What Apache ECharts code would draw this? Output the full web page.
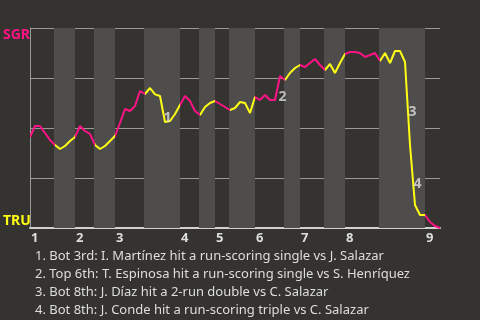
<!DOCTYPE html>
<html>
<head>
<meta charset="utf-8">
<script src="https://cdn.jsdelivr.net/npm/echarts@6/dist/echarts.min.js"></script>
<style>
html,body{margin:0;padding:0;background:#353330;}
#c{width:480px;height:320px;}
</style>
</head>
<body>
<div id="c"></div>
<script>
// SGR win probability (%) after each plate appearance (index 0 = start of game)
const winProb = [
  45.5, 51, 51, 47.5, 44, 41.5, 39.5, 41, 43.5, 45.5,
  51, 48.5, 47, 41.5, 39.5, 41, 43.5, 46, 52.5, 59.5,
  58.5, 61, 68.5, 67, 70, 66.8, 66, 53, 53.5, 57,
  61.5, 66, 63.5, 58.5, 56.5, 60.5, 62.5, 63.5, 62, 60.5,
  59, 60, 63, 62.5, 57.5, 65.5, 64, 66.5, 64, 64,
  76, 74, 77.5, 80, 81.5, 80.5, 82.5, 84.5, 81.5, 79,
  82, 77.5, 82.5, 87, 88, 88, 87.5, 85.5, 86.5, 87.5,
  83.5, 87.5, 82.5, 88.5, 88.5, 83, 41.5, 11.5, 6.5, 6.5,
  3, 1, 0
];
// plate-appearance index where each half inning starts (last = end of game)
const halfInningStarts = [0, 5, 9, 13, 17, 23, 30, 34, 37, 40, 45, 51, 54, 59, 63, 70, 79, 82];
const inningLabels = ['1','2','3','4','5','6','7','8','9'];
// key plays: plate-appearance index of the play
const keyPlayIdx = [27, 50, 76, 77];
const keyPlayLabels = ['1','2','3','4'];
const keyPlayTexts = [
  '1. Bot 3rd: I. Martínez hit a run-scoring single vs J. Salazar',
  '2. Top 6th: T. Espinosa hit a run-scoring single vs S. Henríquez',
  '3. Bot 8th: J. Díaz hit a 2-run double vs C. Salazar',
  '4. Bot 8th: J. Conde hit a run-scoring triple vs C. Salazar'
];
const teamTop = 'SGR';
const teamBottom = 'TRU';

const PINK = '#ff1286';
const YELLOW = '#ffff14';
const BAND = '#4e4d4b';
const TXT = '#dedede';

const inningStarts = halfInningStarts.filter((v, i) => i % 2 === 0 && i < halfInningStarts.length - 1);
const lastIdx = halfInningStarts[halfInningStarts.length - 1];

const lineData = winProb.map((v, i) => [i, v]);

const bands = [];
const pieces = [];
for (let i = 0; i < halfInningStarts.length - 1; i++) {
  const a = halfInningStarts[i], b = halfInningStarts[i + 1];
  pieces.push({ gte: a, lt: (i === halfInningStarts.length - 2) ? b + 1 : b, color: i % 2 === 0 ? PINK : YELLOW });
  if (i % 2 === 1) bands.push([{ xAxis: a - 0.2 }, { xAxis: b }]);
}

const keyPts = keyPlayIdx.map((idx, k) => ({
  value: [idx - 0.5, (winProb[idx - 1] + winProb[idx]) / 2],
  label: { formatter: keyPlayLabels[k] }
}));

const chart = echarts.init(document.getElementById('c'), null, { renderer: 'canvas' });
chart.setOption({
  backgroundColor: '#353330',
  animation: false,
  title: {
    text: keyPlayTexts.join('\n'),
    left: 30, top: 242,
    textStyle: { color: TXT, fontSize: 13, fontWeight: 'normal', lineHeight: 18, fontFamily: 'Noto Sans' }
  },
  grid: { left: 30, right: 40, top: 28, bottom: 92 },
  xAxis: {
    type: 'value', min: 0, max: lastIdx,
    axisLine: { show: true, lineStyle: { color: '#d0d0d0', width: 2 } },
    axisTick: { show: false },
    splitLine: { show: false },
    axisLabel: {
      customValues: inningStarts,
      formatter: v => inningLabels[inningStarts.indexOf(v)],
      color: TXT, fontWeight: 'bold', fontSize: 13, fontFamily: 'Noto Sans',
      align: 'left', margin: 4, padding: [0, 0, 0, 1]
    }
  },
  yAxis: {
    type: 'value', min: 0, max: 100, interval: 25,
    axisLine: { show: true, onZero: false, lineStyle: { color: '#9a9a9a', width: 1 } },
    axisTick: { show: false },
    axisLabel: { show: false },
    splitLine: { show: true, lineStyle: { color: '#999', width: 1 } }
  },
  visualMap: {
    show: false, type: 'piecewise', dimension: 0, seriesIndex: 0, pieces: pieces
  },
  series: [
    {
      type: 'line', data: lineData, showSymbol: false, symbol: 'none',
      lineStyle: { width: 2 }, z: 5,
      markArea: { silent: true, itemStyle: { color: BAND }, data: bands, z: 1 }
    },
    {
      type: 'scatter', data: keyPts, symbolSize: 0, z: 6,
      label: {
        show: true, position: 'inside', offset: [5, 9],
        color: TXT, fontWeight: 'bold', fontSize: 14, fontFamily: 'Noto Sans'
      }
    }
  ],
  graphic: [
    { type: 'text', left: 3, top: 28, style: { text: teamTop, fill: PINK, font: 'bold 14px "Noto Sans"' } },
    { type: 'text', left: 3, top: 214, style: { text: teamBottom, fill: YELLOW, font: 'bold 14px "Noto Sans"' } }
  ]
});
</script>
</body>
</html>
